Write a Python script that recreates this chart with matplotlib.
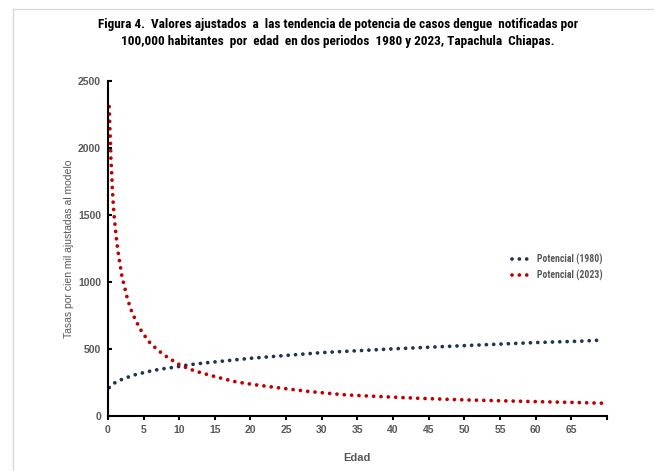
import numpy as np
import matplotlib.pyplot as plt
from matplotlib.lines import Line2D

# Valores (tendencia de potencia)
edad_1980 = [0.18, 0.88, 1.78, 3.54, 5.42, 7.28, 9.38, 11.25, 13.26, 20.1, 30.0, 40.0, 50.0, 60.0, 66.1, 69.1]
tasa_1980 = [215, 248, 272, 307, 332, 352, 367, 384, 397, 434, 476, 504, 528, 551, 561, 569]

edad_2023 = [0.18, 0.24, 0.30, 0.37, 0.42, 0.51, 0.62, 0.72, 0.85, 1.03, 1.21, 1.45, 1.73, 2.0, 2.24,
             2.66, 3.17, 3.87, 4.71, 5.74, 7.0, 8.4, 10.1, 11.5, 13.1, 15.5, 18.0, 20.5, 23.2,
             28.3, 33.4, 38.1, 43.1, 50.0, 60.0, 66.1, 69.6]
tasa_2023 = [2312, 2213, 2113, 2026, 1927, 1840, 1700, 1610, 1510, 1409, 1315, 1220, 1125, 1034, 987,
             894, 805, 718, 636, 558, 494, 439, 384, 352, 325, 290, 257, 237, 218,
             185, 160, 148, 136, 123, 110, 103, 98]

xticks = list(range(0, 75, 5))
xtick_labels = [str(t) for t in xticks[:-1]] + [""]
yticks = [0, 500, 1000, 1500, 2000, 2500]

titulo = ("Figura 4.  Valores ajustados  a  las tendencia de potencia de casos dengue  notificadas por\n"
          "100,000 habitantes  por  edad  en dos periodos  1980 y 2023, Tapachula  Chiapas.")

azul = "#1F3450"
rojo = "#C00000"
gris = "#595959"
narrow = ["Roboto Condensed", "DejaVu Sans"]

plt.rcParams["font.family"] = ["Liberation Sans", "DejaVu Sans"]

fig = plt.figure(figsize=(6.54, 4.71), dpi=100)
ax = fig.add_axes([0.165, 0.116, 0.763, 0.711])

estilo = dict(linestyle=(0, (0.01, 1.95)), linewidth=2.7, dash_capstyle="round")
ax.plot(edad_1980, tasa_1980, color=azul, **estilo)
ax.plot(edad_2023, tasa_2023, color=rojo, **estilo)

ax.set_xlim(0, 70)
ax.set_ylim(0, 2500)
ax.set_xticks(xticks)
ax.set_xticklabels(xtick_labels)
ax.set_yticks(yticks)

for s in ["top", "right"]:
    ax.spines[s].set_visible(False)
for s in ["left", "bottom"]:
    ax.spines[s].set_linewidth(1.5)
    ax.spines[s].set_color("black")

ax.tick_params(axis="x", direction="out", length=3, width=1.5, colors="black",
               labelcolor=gris, labelsize=7.5, pad=3)
ax.tick_params(axis="y", direction="in", length=3, width=1.5, colors="black",
               labelcolor=gris, labelsize=7.5, pad=5)
for lbl in ax.get_xticklabels() + ax.get_yticklabels():
    lbl.set_fontweight("bold")

ax.set_xlabel("Edad", fontsize=8, fontweight="bold", color=gris)
ax.xaxis.set_label_coords(0.5, -0.11)
ax.set_ylabel("Tasas por cien mil ajustadas al modelo", fontsize=7.5, color=gris)
ax.yaxis.set_label_coords(-0.068, 0.5)

fig.text(0.517, 0.962, titulo, ha="center", va="top", fontsize=9.5, fontweight="bold",
         family=narrow, linespacing=1.45)

handles = [Line2D([], [], color=azul, **estilo), Line2D([], [], color=rojo, **estilo)]
leg = ax.legend(handles, ["Potencial (1980)", "Potencial (2023)"], loc="upper left",
                bbox_to_anchor=(0.772, 0.476), bbox_transform=fig.transFigure, frameon=False,
                handlelength=2.3, handletextpad=0.3, labelspacing=0.45, borderpad=0.2,
                prop={"size": 7, "weight": "bold", "family": narrow})
for t in leg.get_texts():
    t.set_color(gris)

# marco gris claro del grafico
fig.add_artist(Line2D([13 / 654, 1], [1 - 9 / 471, 1 - 9 / 471], color="#D9D9D9", linewidth=1,
                      transform=fig.transFigure))
fig.add_artist(Line2D([13 / 654, 13 / 654], [0, 1 - 9 / 471], color="#D9D9D9", linewidth=1,
                      transform=fig.transFigure))

fig.savefig("out.png", dpi=100)
